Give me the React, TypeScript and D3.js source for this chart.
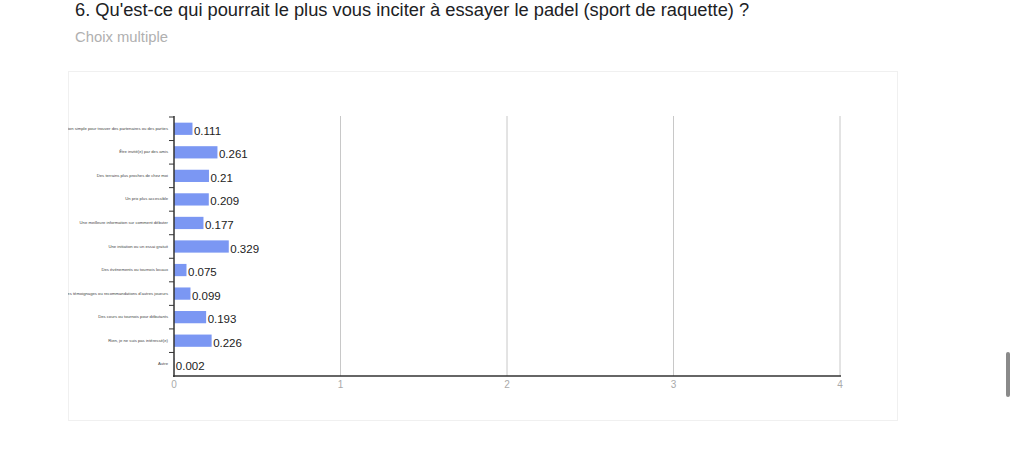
import * as d3 from 'd3'

const categories = [
  'Une solution simple pour trouver des partenaires ou des parties',
  'Être invité(e) par des amis',
  'Des terrains plus proches de chez moi',
  'Un prix plus accessible',
  'Une meilleure information sur comment débuter',
  'Une initiation ou un essai gratuit',
  'Des événements ou tournois locaux',
  "Des témoignages ou recommandations d'autres joueurs",
  'Des cours ou tournois pour débutants',
  'Rien, je ne suis pas intéressé(e)',
  'Autre',
]
const values = [0.111, 0.261, 0.21, 0.209, 0.177, 0.329, 0.075, 0.099, 0.193, 0.226, 0.002]
const xTicks = [0, 1, 2, 3, 4]

const W = 1024
const H = 463

const App = () => {
  const x = d3.scaleLinear().domain([0, 4]).range([174, 840])
  const y = d3.scaleBand<string>().domain(categories).range([117, 376]).paddingInner(0.48).paddingOuter(0.24)
  const band = d3.scaleBand<string>().domain(categories).range([117, 376])

  return (
    <svg width={W} height={H} style={{ position: 'absolute', left: 0, top: 0, background: '#fff' }}
      fontFamily="Helvetica, Arial, 'Liberation Sans', sans-serif">
      <defs>
        <clipPath id="card">
          <rect x={68} y={71} width={829} height={349} />
        </clipPath>
      </defs>
      <rect width={W} height={H} fill="#fff" />
      <text x={75} y={16} fontSize={18.3} fill="#202124">
        6. Qu'est-ce qui pourrait le plus vous inciter à essayer le padel (sport de raquette) ?
      </text>
      <text x={75} y={42} fontSize={14.8} fill="#b0b0b0">Choix multiple</text>

      {/* card */}
      <rect x={68.5} y={71.5} width={829} height={349} fill="#fff" stroke="#f0f0f0" />

      {/* gridlines */}
      {xTicks.slice(1).map(t => (
        <line key={t} x1={x(t)} x2={x(t)} y1={116} y2={376} stroke="#c8c8c8" strokeWidth={1} />
      ))}

      {/* bars */}
      {categories.map((c, i) => (
        <rect key={c} x={x(0)} y={y(c)!} width={x(values[i]) - x(0)} height={y.bandwidth()} fill="#7b97f3" />
      ))}

      {/* value labels */}
      {categories.map((c, i) => (
        <text key={c} x={x(values[i]) + 1.5} y={y(c)! + y.bandwidth() / 2 + 6} fontSize={11.5} fill="#222">
          {values[i]}
        </text>
      ))}

      {/* category labels */}
      <g clipPath="url(#card)">
        {categories.map(c => (
          <text key={c} x={168} y={y(c)! + y.bandwidth() / 2 + 1} fontSize={4.2} fill="#444" textAnchor="end">
            {c}
          </text>
        ))}
      </g>

      {/* y axis ticks at band boundaries */}
      {categories.map(c => (
        <line key={c} x1={169} x2={174} y1={band(c)!} y2={band(c)!} stroke="#333" strokeWidth={1} />
      ))}
      <line x1={174} x2={174} y1={116} y2={377} stroke="#333" strokeWidth={1.5} />
      <line x1={173} x2={841} y1={376} y2={376} stroke="#333" strokeWidth={1.5} />

      {/* x tick labels */}
      {xTicks.map(t => (
        <text key={t} x={x(t)} y={388} fontSize={10} fill="#aaa" textAnchor="middle">{t}</text>
      ))}

      {/* scrollbar */}
      <rect x={1006} y={352} width={4} height={45} rx={2} fill="#8a8a8a" />
    </svg>
  )
}

export default App
